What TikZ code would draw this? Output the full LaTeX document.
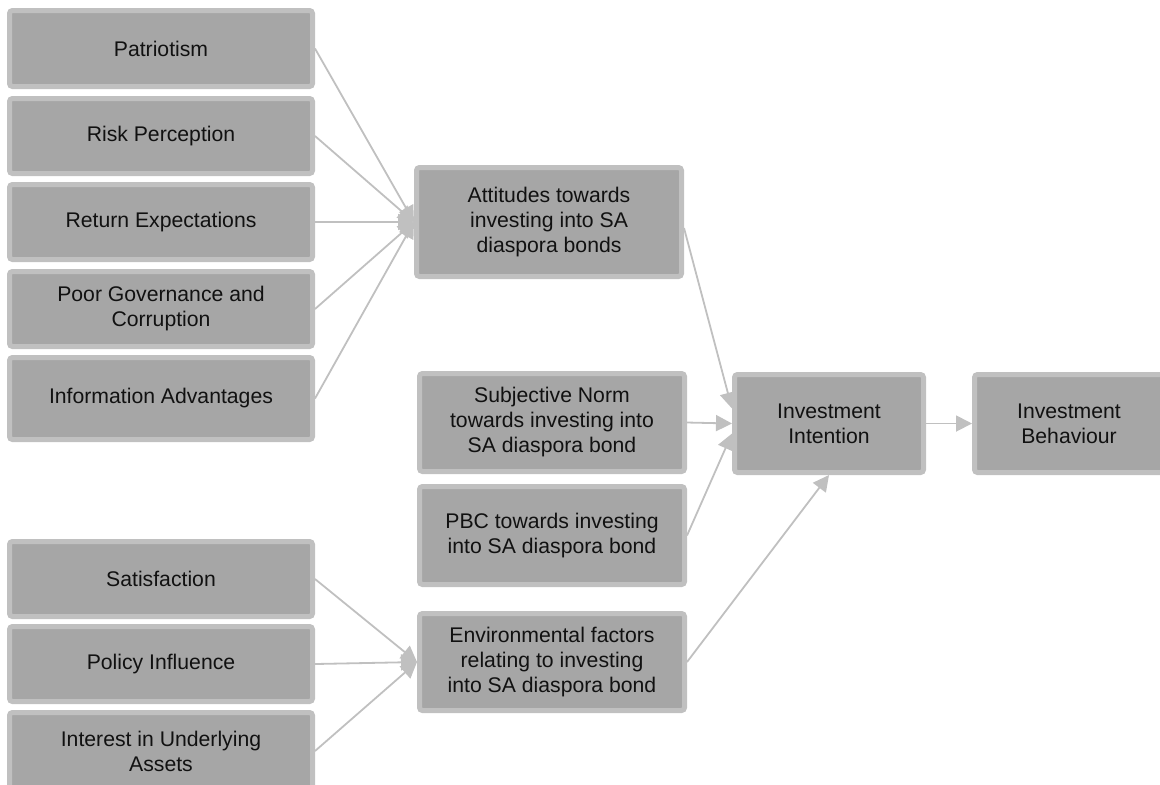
\documentclass[tikz,border=0pt]{standalone}
\usepackage{fontspec}
\setmainfont{Liberation Sans}
\usetikzlibrary{arrows.meta}
\definecolor{boxfill}{HTML}{A6A6A6}
\definecolor{boxline}{HTML}{C0C0C0}
\definecolor{inktext}{HTML}{111111}
\begin{document}
\begin{tikzpicture}[x=0.5pt, y=-0.5pt,
  stepbox/.style={rectangle, rounded corners=1.5pt, fill=boxfill, draw=boxline,
    line width=2.5pt, align=center, inner sep=0pt, text=inktext,
    font=\fontsize{10.6}{12.5}\selectfont},
  leftbox/.style={stepbox, minimum width=151.5pt, minimum height=37.5pt},
  midbox/.style={stepbox, minimum width=132.5pt, minimum height=49pt},
  endbox/.style={stepbox, minimum width=94.5pt, minimum height=49pt},
  link/.style={draw=boxline, line width=0.9pt,
    -{Triangle[length=8pt, width=8pt]}}]
\useasboundingbox (0,0) rectangle (1160,784);

% factors feeding attitudes
\node[leftbox, minimum height=38pt] (pat)  at (161,48.5) {Patriotism};
\node[leftbox] (risk) at (161,136) {Risk Perception};
\node[leftbox] (ret)  at (161,222) {Return Expectations};
\node[leftbox] (poor) at (161,309) {Poor Governance and\\Corruption};
\node[leftbox, minimum height=41pt] (info) at (161,398.5) {Information Advantages};

% factors feeding environment
\node[leftbox] (sat)  at (161,579) {Satisfaction};
\node[leftbox] (pol)  at (161,664) {Policy Influence};
\node[leftbox, minimum height=38.5pt] (intr) at (161,751) {Interest in Underlying\\Assets};

% middle column
\node[midbox, minimum height=54.5pt] (att) at (549,222) {Attitudes towards\\investing into SA\\diaspora bonds};
\node[midbox] (subj) at (552,422.5) {Subjective Norm\\towards investing into\\SA diaspora bond};
\node[midbox] (pbc)  at (552,535.5) {PBC towards investing\\into SA diaspora bond};
\node[midbox, minimum height=48.5pt] (env) at (552,662) {Environmental factors\\relating to investing\\into SA diaspora bond};

% outcome column
\node[endbox] (int) at (829,423.5) {Investment\\Intention};
\node[endbox] (beh) at (1069,423.5) {Investment\\Behaviour};

% connectors
\foreach \src in {pat,risk,ret,poor,info}
  \draw[link] (\src.east) -- (att.west);
\foreach \src in {sat,pol,intr}
  \draw[link] (\src.east) -- (env.west);
\draw[link] ([yshift=-3pt]att.east) -- ([yshift=7.5pt]int.west);
\draw[link] (subj.east) -- (int.west);
\draw[link] (pbc.east) -- ([yshift=-5pt]int.west);
\draw[link] (env.east) -- (int.south);
\draw[link] (int.east) -- (beh.west);
\end{tikzpicture}
\end{document}
